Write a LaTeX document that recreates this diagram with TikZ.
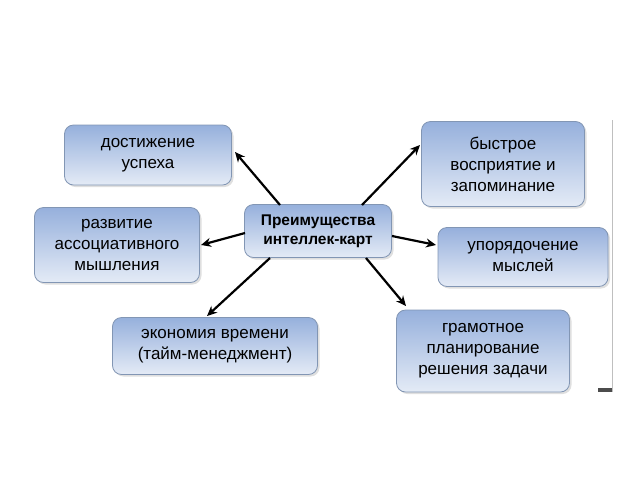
\documentclass[tikz,border=0pt]{standalone}
\usepackage{fontspec}
\setmainfont{Liberation Sans}
\usetikzlibrary{arrows.meta,shadows}
\definecolor{btop}{RGB}{150,176,220}
\definecolor{bbot}{RGB}{228,235,246}
\definecolor{bline}{RGB}{130,150,180}
\tikzset{
 box/.style={draw=bline,line width=0.8pt,rounded corners=9pt,top color=btop,bottom color=bbot,
   align=center,font=\fontsize{17}{21}\selectfont,inner sep=0pt,
   drop shadow={shadow xshift=2pt,shadow yshift=-2pt,fill=black!25}},
 arr/.style={-{Stealth[length=10pt,width=9pt]},line width=2.2pt}
}
\begin{document}
\begin{tikzpicture}[x=1pt,y=-1pt]
\useasboundingbox (0,0) rectangle (640,480);
\node[box,minimum width=167pt,minimum height=60pt] (a) at (148,155) {достижение\\успеха};
\node[box,minimum width=165pt,minimum height=75pt] (b) at (117,245) {развитие\\ассоциативного\\мышления};
\node[box,minimum width=205pt,minimum height=57pt] (c) at (215,346) {экономия времени\\(тайм-менеджмент)};
\node[box,minimum width=147pt,minimum height=53pt,font=\bfseries\fontsize{15.5}{19}\selectfont] (m) at (318,231) {Преимущества\\интеллек-карт};
\node[box,minimum width=163pt,minimum height=85pt] (d) at (503,164) {быстрое\\восприятие и\\запоминание};
\node[box,minimum width=170pt,minimum height=59pt] (e) at (523,257) {упорядочение\\мыслей};
\node[box,minimum width=173pt,minimum height=82pt] (f) at (483,351) {грамотное\\планирование\\решения задачи};
\coordinate (a1) at (235,152); \coordinate (m1) at (280,205);
\draw[arr] (m1) -- (a1);
\coordinate (b1) at (201,245); \coordinate (m2) at (245,233);
\draw[arr] (m2) -- (b1);
\coordinate (c1) at (207,316); \coordinate (m3) at (270,258);
\draw[arr] (m3) -- (c1);
\coordinate (d1) at (420,145); \coordinate (m4) at (362,205);
\draw[arr] (m4) -- (d1);
\coordinate (e1) at (436,245); \coordinate (m5) at (392,236);
\draw[arr] (m5) -- (e1);
\coordinate (f1) at (406,306); \coordinate (m6) at (366,258);
\draw[arr] (m6) -- (f1);
\coordinate (g1) at (612,120); \coordinate (g2) at (612,392);
\draw[black!25,line width=0.8pt] (g1) -- (g2);
\fill[black!70] (598,388) rectangle (612,392);
\end{tikzpicture}
\end{document}
